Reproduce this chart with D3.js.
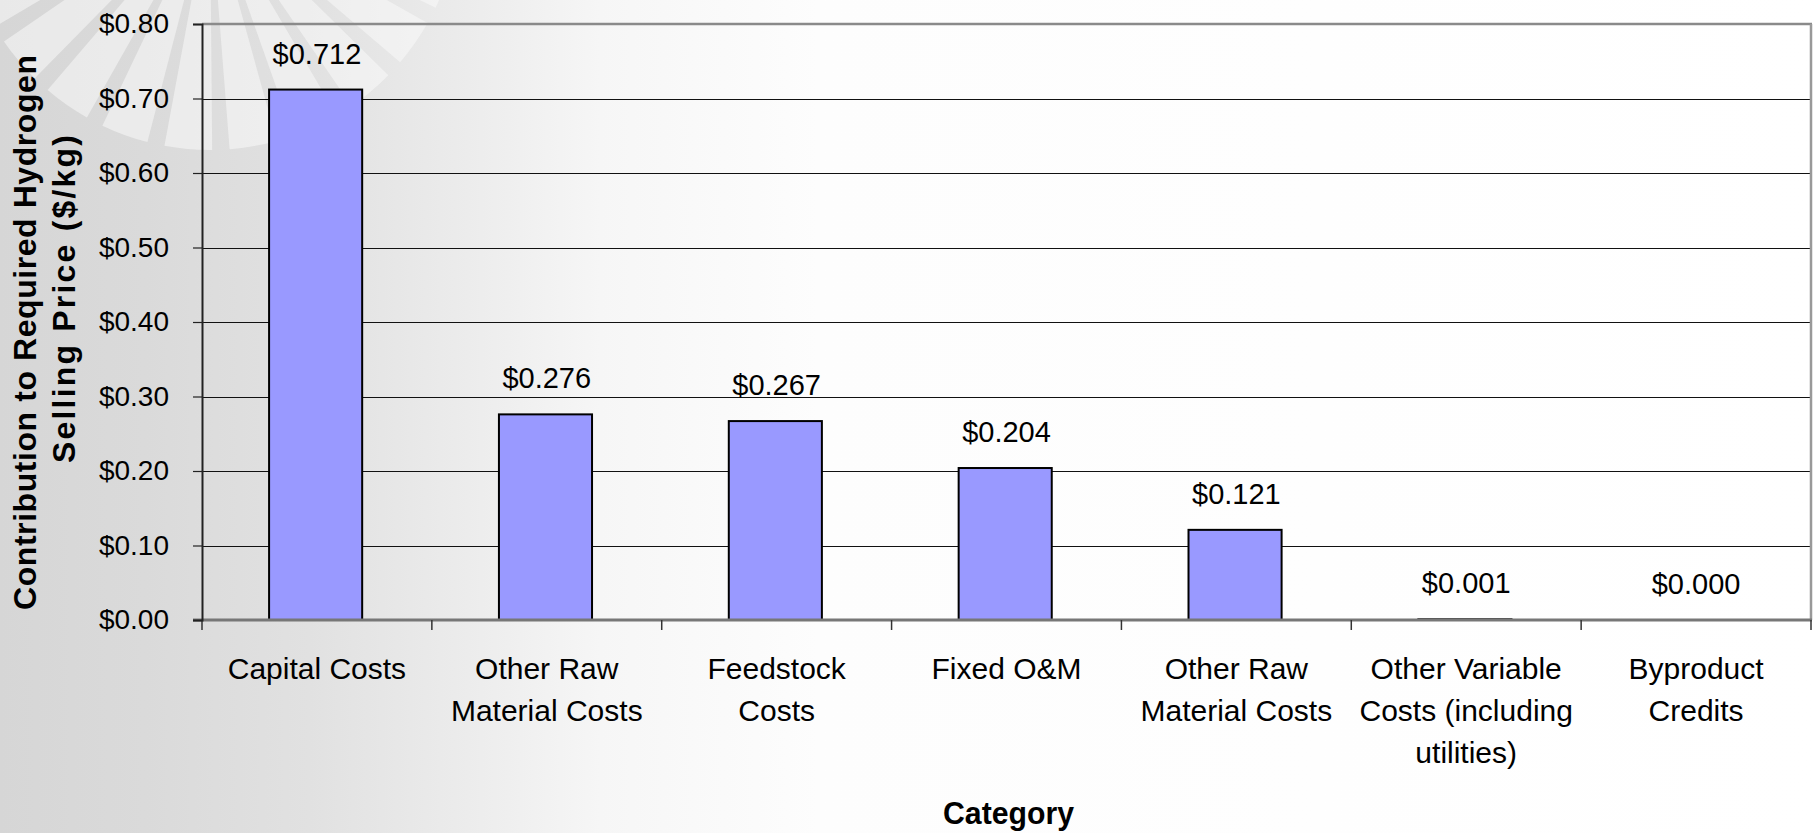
<!DOCTYPE html>
<html>
<head>
<meta charset="utf-8">
<script src="https://cdn.jsdelivr.net/npm/d3@7"></script>
<style>
  html, body { margin: 0; padding: 0; overflow: hidden; }
  svg { display: block; font-family: "Liberation Sans", Arial, sans-serif; }
</style>
</head>
<body>
<svg id="chart" width="1819" height="833"></svg>
<script>
// ---- data ----
const categories = ["Capital Costs", "Other Raw Material Costs", "Feedstock Costs", "Fixed O&M",
  "Other Raw Material Costs", "Other Variable Costs (including utilities)", "Byproduct Credits"];
const categoryLines = [["Capital Costs"], ["Other Raw", "Material Costs"], ["Feedstock", "Costs"],
  ["Fixed O&M"], ["Other Raw", "Material Costs"], ["Other Variable", "Costs (including", "utilities)"],
  ["Byproduct", "Credits"]];
const values = [0.712, 0.276, 0.267, 0.204, 0.121, 0.001, 0.000];
const yTicks = [0, 0.1, 0.2, 0.3, 0.4, 0.5, 0.6, 0.7, 0.8];
const yTitleLines = ["Contribution to Required Hydrogen", "Selling Price ($/kg)"];
const xTitle = "Category";

// ---- layout ----
const W = 1819, H = 833;
const plot = { left: 202, right: 1811, top: 24, bottom: 620 };
const svg = d3.select("#chart");

// background gradient
const defs = svg.append("defs");
const grad = defs.append("linearGradient").attr("id", "bg").attr("x1", 0).attr("x2", 1).attr("y1", 0).attr("y2", 0);
[[0, "#d6d6d6"], [0.08, "#dadada"], [0.17, "#e1e1e1"], [0.25, "#ebebeb"], [0.33, "#f6f6f6"], [0.45, "#fdfdfd"], [1, "#ffffff"]]
  .forEach(([o, c]) => grad.append("stop").attr("offset", o).attr("stop-color", c));
svg.append("rect").attr("width", W).attr("height", H).attr("fill", "url(#bg)");

// faint sunburst watermark
const wm = svg.append("g").attr("transform", "translate(210,-100)");
const arc = d3.arc().innerRadius(0).outerRadius(250);
const rad = Math.PI / 180;
for (let a = 25; a <= 175; a += 15) {
  const s = (90 + a - 5.5) * rad, e = (90 + a + 5.5) * rad;
  wm.append("path").attr("d", arc({ startAngle: s, endAngle: e }))
    .attr("transform", "scale(-1,1)")
    .attr("fill", "#fafafa").attr("opacity", 0.55);
}

// scales
const x = d3.scaleBand().domain(d3.range(categories.length)).range([plot.left, plot.right])
  .paddingInner(0.595).paddingOuter(0.2975);
const y = d3.scaleLinear().domain([0, 0.8]).range([plot.bottom, plot.top]);
const step = x.step();

// gridlines
svg.append("g").selectAll("line").data(yTicks.filter(t => t > 0 && t < 0.8)).join("line")
  .attr("x1", plot.left).attr("x2", plot.right)
  .attr("y1", d => Math.round(y(d)) + 0.5).attr("y2", d => Math.round(y(d)) + 0.5)
  .attr("stroke", "#111").attr("stroke-width", 1);

// top & right border
svg.append("line").attr("x1", plot.left).attr("x2", plot.right + 1).attr("y1", y(0.8)).attr("y2", y(0.8))
  .attr("stroke", "#8a8a8a").attr("stroke-width", 2.5);
svg.append("line").attr("x1", plot.right).attr("x2", plot.right).attr("y1", y(0.8)).attr("y2", plot.bottom)
  .attr("stroke", "#999").attr("stroke-width", 2.5);

// bars
svg.append("g").selectAll("rect").data(values).join("rect")
  .attr("x", (d, i) => x(i) - 1.3)
  .attr("y", d => y(d))
  .attr("width", x.bandwidth())
  .attr("height", d => y(0) - y(d))
  .attr("fill", "#9999ff").attr("stroke", "#000").attr("stroke-width", 2);

// data labels
svg.append("g").selectAll("text").data(values).join("text")
  .attr("x", (d, i) => x(i) + x.bandwidth() / 2)
  .attr("y", d => y(d) - 26)
  .attr("text-anchor", "middle").attr("font-size", 29).attr("fill", "#000")
  .text(d => "$" + d3.format(".3f")(d));

// x axis line and ticks at category boundaries (drawn over bar bases)
svg.append("line").attr("x1", plot.left - 9).attr("x2", plot.right + 1).attr("y1", plot.bottom).attr("y2", plot.bottom)
  .attr("stroke", "#777").attr("stroke-width", 3);
const bounds = d3.range(categories.length + 1).map(i => plot.left + i * step);
svg.append("g").selectAll("line").data(bounds).join("line")
  .attr("x1", d => d).attr("x2", d => d).attr("y1", plot.bottom).attr("y2", plot.bottom + 10)
  .attr("stroke", "#333").attr("stroke-width", 1.5);

// y axis
const yAxis = d3.axisLeft(y).tickValues(yTicks).tickFormat(d => "$" + d3.format(".2f")(d)).tickSize(9).tickPadding(24);
const gy = svg.append("g").attr("transform", `translate(${plot.left},0)`).call(yAxis);
gy.select(".domain").attr("stroke", "#222").attr("stroke-width", 2);
gy.selectAll(".tick line").attr("stroke", "#222").attr("stroke-width", 1.2);
gy.selectAll(".tick text").attr("font-size", 28).attr("fill", "#000")
  .attr("font-family", "'Liberation Sans', Arial, sans-serif");

// category labels
const cl = svg.append("g").selectAll("text").data(categoryLines).join("text")
  .attr("text-anchor", "middle").attr("font-size", 30).attr("fill", "#000");
cl.each(function (lines, i) {
  const t = d3.select(this);
  lines.forEach((ln, k) => {
    t.append("tspan").attr("x", plot.left + (i + 0.5) * step).attr("y", 679 + k * 42).text(ln);
  });
});

// axis titles
svg.append("text").attr("x", (plot.left + plot.right) / 2 + 2).attr("y", 824)
  .attr("text-anchor", "middle").attr("font-size", 31).attr("font-weight", "bold")
  .attr("textLength", 131).attr("lengthAdjust", "spacingAndGlyphs").text(xTitle);

svg.append("text").attr("transform", "translate(36,610) rotate(-90)")
  .attr("font-size", 32).attr("font-weight", "bold")
  .attr("textLength", 555).attr("lengthAdjust", "spacing").text(yTitleLines[0]);
svg.append("text").attr("transform", "translate(75,463) rotate(-90)")
  .attr("font-size", 32).attr("font-weight", "bold")
  .attr("textLength", 328).attr("lengthAdjust", "spacing").text(yTitleLines[1]);
</script>
</body>
</html>
